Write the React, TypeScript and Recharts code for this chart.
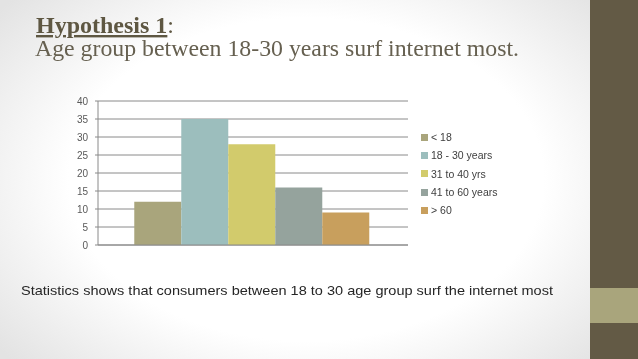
import React from 'react'
import { BarChart, Bar, XAxis, YAxis, CartesianGrid, Legend } from 'recharts'

const categories = ['Age group']
const seriesNames = ['< 18', '18 - 30 years', '31 to 40 yrs', '41 to 60 years', '> 60']
const seriesValues = [12, 35, 28, 16, 9]
const seriesColors = ['#A9A57C', '#9CBEBD', '#D2CB6C', '#95A39D', '#C89F5D']
const yTicks = [0, 5, 10, 15, 20, 25, 30, 35, 40]

const chartData = categories.map((name) => {
  const row: Record<string, string | number> = { name }
  seriesNames.forEach((s, i) => {
    row[s] = seriesValues[i]
  })
  return row
})

const sans = '"Liberation Sans", Arial, sans-serif'
const serif = '"Liberation Serif", "Times New Roman", serif'

function LegendBox({ payload }: any) {
  // keep the series order, recharts sorts by name otherwise
  const items = [...(payload || [])].sort(
    (a: any, b: any) => seriesNames.indexOf(a.value) - seriesNames.indexOf(b.value)
  )
  return (
    <div style={{ fontFamily: sans, fontSize: 10.5, color: '#404040' }}>
      {items.map((p: any) => (
        <div key={p.value} style={{ height: 18.3, display: 'flex', alignItems: 'center' }}>
          <span style={{ display: 'inline-block', width: 7, height: 7, background: p.color, marginRight: 3 }} />
          <span>{p.value}</span>
        </div>
      ))}
    </div>
  )
}

export default function App() {
  return (
    <div
      style={{
        position: 'fixed',
        left: 0,
        top: 0,
        width: 638,
        height: 359,
        overflow: 'hidden',
        background: 'radial-gradient(ellipse 62% 75% at 48% 50%, #ffffff 60%, #e3e3e3 100%)',
      }}
    >
      {/* right strip */}
      <div style={{ position: 'absolute', left: 590, top: 0, width: 48, height: 359, background: '#635A45' }} />
      <div style={{ position: 'absolute', left: 590, top: 288, width: 48, height: 35, background: '#A9A57C' }} />

      <svg width={638} height={359} style={{ position: 'absolute', left: 0, top: 0 }}>
        <text x={36} y={33} fontFamily={serif} fontSize={24} fill="#5E5742">
          <tspan fontWeight="bold" textDecoration="underline">Hypothesis 1</tspan>
          <tspan>:</tspan>
        </text>
        <text x={35} y={56} fontFamily={serif} fontSize={23} fill="#666050" textLength={484} lengthAdjust="spacingAndGlyphs">
          Age group between 18-30 years surf internet most.
        </text>
        <text x={21} y={295} fontFamily={sans} fontSize={13} fill="#262626" textLength={532} lengthAdjust="spacingAndGlyphs">
          Statistics shows that consumers between 18 to 30 age group surf the internet most
        </text>
      </svg>

      <div style={{ position: 'absolute', left: 40, top: 90 }}>
        <BarChart
          width={500}
          height={170}
          data={chartData}
          margin={{ top: 11, right: 132, bottom: 9, left: 0 }}
          barCategoryGap="11.7%"
          barGap={0}
        >
          <CartesianGrid vertical={false} stroke="#8a8a8a" />
          <XAxis dataKey="name" tick={false} tickLine={false} axisLine={{ stroke: '#8a8a8a' }} height={6} />
          <YAxis
            width={58}
            domain={[0, 40]}
            ticks={yTicks}
            interval={0}
            tickSize={3}
            tickMargin={7}
            axisLine={{ stroke: '#8a8a8a' }}
            tickLine={{ stroke: '#8a8a8a' }}
            tick={{ fill: '#595959', fontSize: 10, fontFamily: sans }}
          />
          <Legend
            layout="horizontal"
            verticalAlign="middle"
            content={<LegendBox />}
            wrapperStyle={{ left: 381, top: 38, width: 110 }}
          />
          {seriesNames.map((s, i) => (
            <Bar key={s} dataKey={s} fill={seriesColors[i]} isAnimationActive={false} />
          ))}
        </BarChart>
      </div>
    </div>
  )
}
